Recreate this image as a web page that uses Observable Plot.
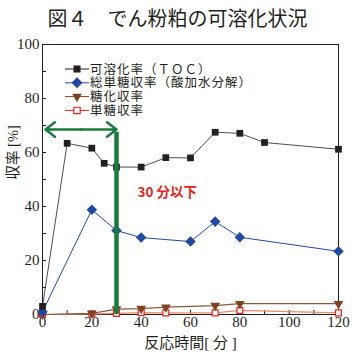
<!DOCTYPE html>
<html><head><meta charset="utf-8">
<script src="https://cdn.jsdelivr.net/npm/d3@7"></script>
<script src="https://cdn.jsdelivr.net/npm/@observablehq/plot@0.6"></script>
<style>
body{margin:0;background:#fff;}
#wrap{position:relative;width:355px;height:358px;overflow:hidden;}
#title{position:absolute;left:0;top:3px;width:355px;text-align:center;font:20px "Noto Sans CJK JP",sans-serif;color:#231f20;}
#legend{position:absolute;left:0;top:0;}
#chart{position:absolute;left:0;top:0;}
</style></head>
<body><div id="wrap"><div id="chart"></div><div id="title">図４　でん粉粕の可溶化状況</div><svg id="legend" width="355" height="130"></svg></div>
<script>
// data
const tocTime = [0, 10, 20, 25, 30, 40, 50, 60, 70, 80, 90, 120];
const tocVal  = [3, 63.4, 61.6, 56, 54.6, 54.6, 58.1, 58, 67.5, 67.1, 63.7, 61.2];
const totTime = [0, 20, 30, 40, 60, 70, 80, 120];
const totVal  = [1, 38.8, 31.1, 28.5, 27, 34.4, 28.6, 23.4];
const sacTime = [0, 20, 30, 40, 50, 70, 80, 120];
const sacVal  = [0, 0.4, 2, 2.2, 2.7, 3.3, 4, 4];
const monoTime = [0, 20, 30, 40, 50, 70, 80, 120];
const monoVal  = [0, 0.2, 0.4, 0.7, 0.6, 0.6, 1.5, 0.6];
const seriesNames = ["可溶化率（ＴＯＣ）", "総単糖収率（酸加水分解）", "糖化収率", "単糖収率"];
const xTicks = [0, 20, 40, 60, 80, 100, 120];
const yTicks = [0, 20, 40, 60, 80, 100];
const xMinor = [0, 10, 20, 30, 40, 50, 60, 70, 80, 90, 100, 110, 120];
const yMinor = [0, 10, 20, 30, 40, 50, 60, 70, 80, 90, 100];
const limitTime = 30;      // 30分以下
const limitTop = 67.5;
const arrowLevel = 68.5;
const arrowStart = 1.2;
const noteText = "30 分以下";
const noteX = 38.5, noteY = 45;

const toc = tocTime.map((t,i)=>({t, v:tocVal[i]}));
const tot = totTime.map((t,i)=>({t, v:totVal[i]}));
const sac = sacTime.map((t,i)=>({t, v:sacVal[i]}));
const mono = monoTime.map((t,i)=>({t, v:monoVal[i]}));

const cBlack="#231f20", cBlue="#2249a0", cBrown="#7b4322", cRed="#e8231c", cGreen="#1b7b3e";
const mid = (arrowStart+limitTime)/2;

const plot = Plot.plot({
  width: 355, height: 358,
  marginLeft: 42, marginRight: 17, marginTop: 44, marginBottom: 44,
  x: {domain: [0, 120]},
  y: {domain: [0, 100]},
  style: {fontFamily: "'Liberation Serif', serif", fontSize: "15px", color: cBlack, background: "white"},
  marks: [
    Plot.axisX(xTicks, {tickSize: 0, tickPadding: 2, label: null, fontSize: 15, fill: cBlack}),
    Plot.axisY(yTicks, {tickSize: 0, tickPadding: 3, label: null, fontSize: 15, fill: cBlack}),
    Plot.axisX(xMinor, {tickSize: -4, tickFormat: () => "", label: null, stroke: cBlack}),
    Plot.axisY(yMinor, {tickSize: -4, tickFormat: () => "", label: null, stroke: cBlack}),
    Plot.frame({stroke: cBlack, strokeWidth: 1}),
    Plot.line(mono, {x: "t", y: "v", stroke: "#f08a6a", strokeWidth: 1.2}),
    Plot.line(sac, {x: "t", y: "v", stroke: "#8b5a3a", strokeWidth: 1.2}),
    Plot.line(tot, {x: "t", y: "v", stroke: cBlue, strokeWidth: 1}),
    Plot.line(toc, {x: "t", y: "v", stroke: "#3a3a3a", strokeWidth: 0.9}),
    Plot.dot(mono, {x: "t", y: "v", symbol: "square", r: 3.3, stroke: cRed, fill: "white", strokeWidth: 1.2}),
    Plot.dot(sac, {x: "t", y: "v", symbol: "triangle", rotate: 180, r: 3.6, fill: cBrown, stroke: "none"}),
    Plot.dot(tot, {x: "t", y: "v", symbol: "square", rotate: 45, r: 4.2, fill: cBlue, stroke: "none"}),
    Plot.dot(toc, {x: "t", y: "v", symbol: "square", r: 3.8, fill: cBlack, stroke: "none"}),
    Plot.ruleX([limitTime], {y1: 0, y2: limitTop, stroke: cGreen, strokeWidth: 4.5}),
    Plot.arrow([{x1: mid, x2: arrowStart}, {x1: mid, x2: limitTime}], {x1: "x1", x2: "x2", y1: arrowLevel, y2: arrowLevel, bend: 0, stroke: cGreen, strokeWidth: 2.5, headLength: 12, headAngle: 75}),
    Plot.text([noteText], {x: noteX, y: noteY, text: d => d, textAnchor: "start", fill: cRed, fontWeight: "bold", fontSize: 13.5, fontFamily: "'Noto Sans CJK JP', sans-serif"}),
    Plot.text(["反応時間[ 分 ]"], {frameAnchor: "bottom", dy: 33, text: d => d, fontSize: 15, fill: cBlack, fontFamily: "'Liberation Serif','Noto Sans CJK JP', serif"}),
    Plot.text(["収率 [%]"], {frameAnchor: "left", dx: -29, dy: 0, rotate: -90, text: d => d, fontSize: 14.5, fill: cBlack, fontFamily: "'Liberation Serif','Noto Sans CJK JP', serif"})
  ]
});
document.getElementById("chart").appendChild(plot);

// legend
const lg = d3.select("#legend");
const styles = [
  {stroke: cBlack, sym: "square", fill: cBlack, mstroke: "none", rot: 0, size: 50},
  {stroke: cBlue, sym: "square", fill: cBlue, mstroke: "none", rot: 45, size: 60},
  {stroke: cBrown, sym: "triangle", fill: cBrown, mstroke: "none", rot: 180, size: 40},
  {stroke: cRed, sym: "square", fill: "white", mstroke: cRed, rot: 0, size: 40}
];
const symMap = {square: d3.symbolSquare, triangle: d3.symbolTriangle};
const rowGap = 13.8, row0 = 69;
seriesNames.forEach((name, i) => {
  const y = row0 + i * rowGap;
  const s = styles[i];
  lg.append("line").attr("x1", 65).attr("x2", 89).attr("y1", y).attr("y2", y).attr("stroke", s.stroke).attr("stroke-width", 1);
  lg.append("path").attr("d", d3.symbol(symMap[s.sym], s.size)()).attr("transform", `translate(77,${y}) rotate(${s.rot})`)
    .attr("fill", s.fill).attr("stroke", s.mstroke).attr("stroke-width", 1.2);
});
const txt = lg.append("text").attr("font-size", 12.5).attr("letter-spacing", "1px")
  .attr("font-family", "'Noto Sans CJK JP', sans-serif").attr("fill", cBlack);
seriesNames.forEach((name, i) => {
  txt.append("tspan").attr("x", 90).attr("y", row0 + i * rowGap).attr("dy", "0.36em").text(name);
});
</script></body></html>
